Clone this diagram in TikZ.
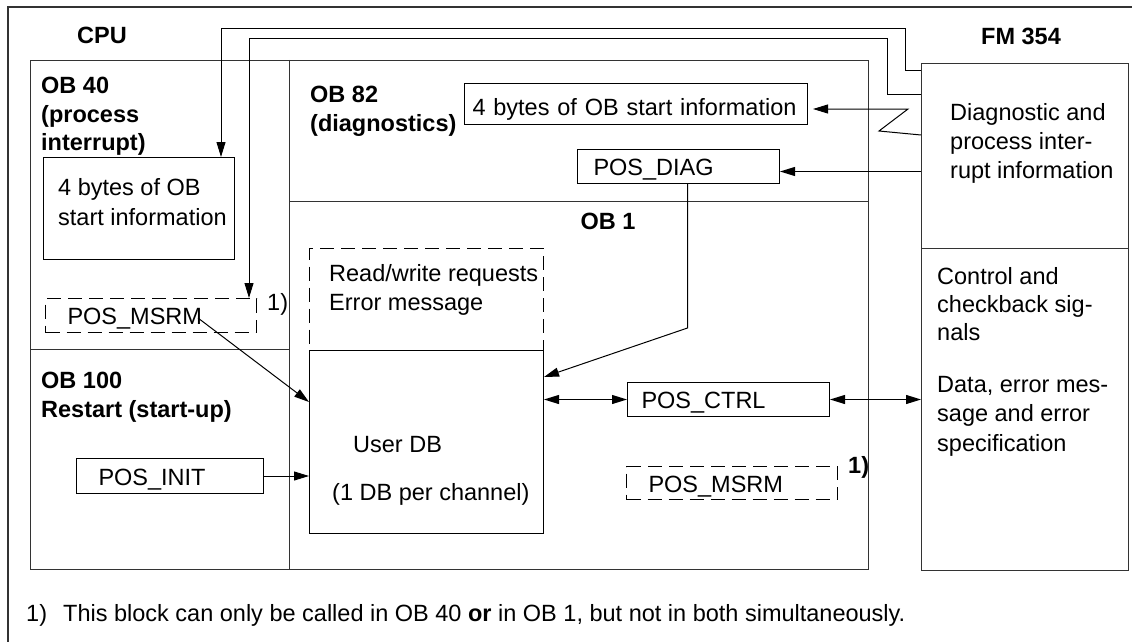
\documentclass[tikz,border=0pt]{standalone}
\usepackage{fontspec}
\setmainfont{Liberation Sans}
\usetikzlibrary{arrows.meta}

\begin{document}
\begin{tikzpicture}[x=1pt, y=-1pt,
	every node/.style={inner sep=0pt, font=\fontsize{23.5}{29}\selectfont},
	title/.style={font=\fontsize{23.5}{28.5}\selectfont\bfseries},
	heading/.style={title, align=left, anchor=north west},
	txt/.style={align=left, anchor=north west},
	frame/.style={draw=black!80, line width=1pt, anchor=north west},
	box/.style={draw, line width=1pt, anchor=north west, align=left, inner ysep=0pt,
		text height=18pt, text depth=0pt, minimum height=34pt},
	optbox/.style={box, dash pattern=on 14pt off 7pt},
	arr/.style={-{Triangle[length=15pt,width=9pt]}, line width=1pt},
	darr/.style={{Triangle[length=15pt,width=9pt]}-{Triangle[length=15pt,width=9pt]}, line width=1pt}]
	\useasboundingbox (0,0) rectangle (1132,642);
	\draw[black!80, line width=1.2pt] (8,7) rectangle (1134,646);
	\node[title, anchor=base] (cpu) at (102,44) {CPU};
	\node[title, anchor=base] (fm) at (1021,45) {FM 354};
	% CPU frame and its blocks
	\node[frame, minimum width=838pt, minimum height=509pt] (cpuframe) at (30,60) {};
	\draw[black!80, line width=1pt] (289,60) -- (289,569);
	\draw[black!80, line width=1pt] (289,201) -- (868,201);
	\draw[black!80, line width=1pt] (30,349) -- (289,349);
	\node[heading] (ob40) at (41,77) {OB 40\\(process\\interrupt)};
	\node[heading] (ob82) at (310,86) {OB 82\\(diagnostics)};
	\node[heading, anchor=base] (ob1) at (608,229) {OB 1};
	\node[heading] (ob100) at (41,372) {OB 100\\Restart (start-up)};
	% OB 40
	\node[draw, line width=1pt, anchor=north west, minimum width=191pt, minimum height=102pt] (ob40info) at (43,157) {};
	\node[txt, font=\fontsize{23.5}{30}\selectfont] (ob40txt) at (58,178) {4 bytes of OB\\start information};
	\node[optbox, inner xsep=22pt, text width=167pt] (msrm40) at (45,298) {POS\_MSRM};
	\node[anchor=base west] (mark40) at (267,310) {1)};
	% OB 100
	\node[box, inner xsep=22pt, text width=143pt, minimum height=35pt] (posinit) at (76,458) {POS\_INIT};
	% OB 82
	\node[box, inner xsep=8pt, text width=327pt, minimum height=41pt, text height=23pt] (ob82info) at (464,83) {4 bytes of OB start information};
	\node[box, inner xsep=16pt, text width=170pt] (posdiag) at (577,149) {POS\_DIAG};
	% OB 1
	\node[draw, line width=1pt, dash pattern=on 14pt off 7pt, anchor=north west, minimum width=234pt, minimum height=102pt] (rwreq) at (309,248) {};
	\node[draw, line width=1pt, anchor=north west, minimum width=234pt, minimum height=183pt] (userdb) at (309,350) {};
	\node[txt] (rwtxt) at (329,264) {Read/write requests\\Error message};
	\node[anchor=base west] (dbname) at (353,452) {User DB};
	\node[anchor=base west] (dbnote) at (332,500) {(1 DB per channel)};
	\node[box, inner xsep=14pt, text width=174pt] (posctrl) at (627,382) {POS\_CTRL};
	\node[optbox, inner xsep=22pt, text width=167pt, minimum height=33pt] (msrm1) at (626,466) {POS\_MSRM};
	\node[title, anchor=base west] (mark1) at (848,473) {1)};
	% FM 354
	\node[frame, minimum width=207pt, minimum height=507pt] (fmbox) at (921,63) {};
	\draw[black!80, line width=1pt] (fmbox.west |- 0,248) -- (fmbox.east |- 0,248);
	\node[txt] (fmirq) at (950,103) {Diagnostic and\\process inter-\\rupt information};
	\node[txt, font=\fontsize{23.5}{28}\selectfont] (fmctrl) at (937,267) {Control and\\checkback sig-\\nals};
	\node[txt, font=\fontsize{23.5}{29.5}\selectfont] (fmdata) at (937,376) {Data, error mes-\\sage and error\\specification};
	% connections
	\coordinate (irqA) at (221,29);
	\coordinate (irqB) at (249,39);
	\draw[arr] ([yshift=-8pt]fmbox.north west) -- ++(-16,0) |- (irqA) -- (irqA |- ob40info.north);
	\draw[arr] ([yshift=-31pt]fmbox.north west) -- ++(-34,0) |- (irqB) -- (irqB |- msrm40.north);
	\draw[arr] ([yshift=-72pt]fmbox.north west) -- ++(-42,-4) -- ++(29,-22) -- ([xshift=5pt,yshift=-5pt]ob82info.east);
	\draw[arr] ([yshift=-5pt]posdiag.east -| fmbox.west) -- ([yshift=-5pt]posdiag.east);
	\draw[arr] ([xshift=9pt]posdiag.south) -- ++(0,144) -- ([yshift=-27pt]userdb.north east);
	\draw[arr] ([xshift=-59pt,yshift=15pt]msrm40.south east) -- ([yshift=-52pt]userdb.north west);
	\draw[arr] (posinit.east) -- (posinit.east -| userdb.west);
	\draw[darr] (posctrl.west -| userdb.east) -- (posctrl.west);
	\draw[darr] (posctrl.east) -- (posctrl.east -| fmbox.west);
	% footnote
	\node[anchor=base west] (note) at (26,621) {\makebox[37pt][l]{1)}This block can only be called in OB 40 \textbf{or} in OB 1, but not in both simultaneously.};
\end{tikzpicture}
\end{document}
